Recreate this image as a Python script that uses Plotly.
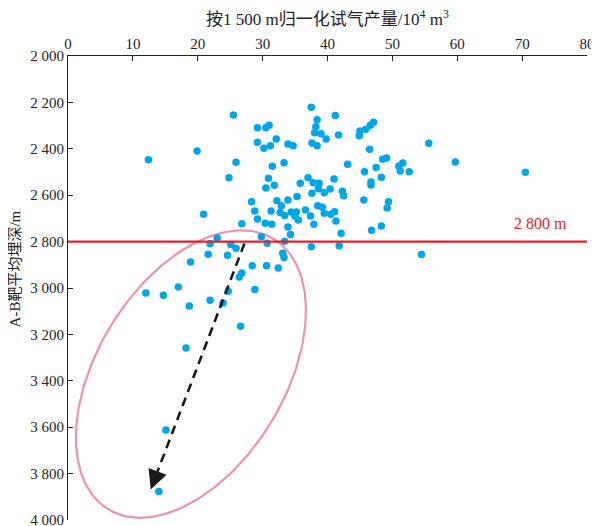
import numpy as np
import plotly.graph_objects as go

# Normalized test gas production (10^4 m^3) and A-B target average burial depth (m)
gas = [37.5, 25.5, 41.2, 38.4, 38.2, 29.2, 30.5, 31.0, 38.0, 39.0,
       41.7, 45.0, 44.9, 45.9, 46.6, 47.1, 32.1, 39.8, 29.2, 31.2,
       30.2, 33.9, 34.7, 37.6, 38.4, 19.9, 46.5, 48.5, 49.1, 25.9,
       33.3, 31.5, 43.1, 51.0, 51.2, 47.5, 45.7, 24.8, 30.9, 37.0,
       37.8, 38.7, 41.0, 48.3, 35.8, 31.8, 30.5, 38.6, 46.7, 46.7,
       40.4, 39.5, 37.6, 42.3, 42.5, 35.3, 33.9, 32.2, 28.3, 45.6,
       49.4, 32.9, 38.5, 39.2, 49.2, 28.8, 31.3, 32.7, 33.4, 34.4,
       35.2, 35.0, 35.5, 36.6, 37.4, 39.5, 40.5, 41.1, 41.3, 29.2,
       30.4, 31.4, 26.8, 20.9, 37.9, 33.9, 34.3, 42.1, 46.8, 48.3,
       23.0, 21.9, 29.8, 30.7, 33.4, 25.1, 25.9, 37.5, 41.8, 55.6,
       59.7, 51.6, 52.6, 70.5, 33.1, 33.3, 21.6, 24.6, 18.9, 28.4,
       30.6, 32.4, 26.8, 26.4, 17.0, 12.0, 14.7, 28.8, 24.7, 21.9,
       23.9, 18.7, 26.6, 18.2, 54.5, 15.1, 14.0, 12.4]
depth = [2221, 2254, 2256, 2275, 2305, 2309, 2309, 2299, 2331, 2335,
         2341, 2323, 2344, 2316, 2299, 2286, 2358, 2358, 2372, 2387,
         2398, 2379, 2387, 2375, 2387, 2409, 2402, 2445, 2440, 2458,
         2460, 2475, 2467, 2474, 2496, 2481, 2499, 2525, 2527, 2525,
         2546, 2549, 2530, 2523, 2549, 2557, 2569, 2572, 2543, 2556,
         2573, 2589, 2592, 2583, 2602, 2606, 2621, 2624, 2628, 2621,
         2628, 2645, 2645, 2652, 2655, 2668, 2668, 2675, 2687, 2672,
         2672, 2691, 2707, 2664, 2690, 2678, 2682, 2671, 2711, 2703,
         2721, 2725, 2723, 2682, 2725, 2737, 2769, 2764, 2751, 2733,
         2784, 2809, 2779, 2807, 2799, 2813, 2829, 2822, 2818, 2376,
         2457, 2461, 2499, 2501, 2850, 2868, 2855, 2859, 2888, 2904,
         2904, 2914, 2935, 2953, 2996, 3022, 3031, 3006, 3014, 3053,
         3065, 3078, 3165, 3259, 2856, 3612, 3877, 2447]

x_ticks = [0, 10, 20, 30, 40, 50, 60, 70, 80]
y_ticks = [2000, 2200, 2400, 2600, 2800, 3000, 3200, 3400, 3600, 3800, 4000]
y_ticklabels = ["2 000", "2 200", "2 400", "2 600", "2 800", "3 000",
                "3 200", "3 400", "3 600", "3 800", "4 000"]
threshold_depth = 2800
threshold_label = "2 800 m"
x_title = "按1 500 m归一化试气产量/10<sup>4</sup> m<sup>3</sup>"
y_title = "A-B靶平均埋深/m"

# decoration geometry (data units)
arrow_start = (27.2, 2808)
arrow_end = (12.75, 3868)
ellipse_center = (18.95, 3371)

W, H = 599, 526
# page body adds an 8px offset, margins compensate for it
ML, MR, MT, MB = 60, 20, 48, 14
px_per_x = (W - ML - MR) / 80.0
px_per_m = (H - MT - MB) / 2000.0

FONT = "Liberation Serif, Noto Sans CJK SC, serif"

fig = go.Figure()

# ellipse (rotated, defined in screen proportions)
a_px, b_px, theta = 158.5, 93.6, np.deg2rad(58.5)
t = np.linspace(0, 2 * np.pi, 241)
ex_px = a_px * np.cos(t) * np.cos(theta) - b_px * np.sin(t) * np.sin(theta)
ey_px = a_px * np.cos(t) * np.sin(theta) + b_px * np.sin(t) * np.cos(theta)
fig.add_trace(go.Scatter(
    x=ellipse_center[0] + ex_px / px_per_x,
    y=ellipse_center[1] - ey_px / px_per_m,
    mode="lines", line=dict(color="#e993b3", width=2.2),
    hoverinfo="skip", showlegend=False))

# data points
fig.add_trace(go.Scatter(
    x=gas, y=depth, mode="markers",
    marker=dict(size=7.5, color="#00a6e6", line=dict(width=0)),
    showlegend=False))

# dashed arrow shaft
dxp = (arrow_start[0] - arrow_end[0]) * px_per_x
dyp = -(arrow_start[1] - arrow_end[1]) * px_per_m
L = np.hypot(dxp, dyp)
ux, uy = dxp / L, dyp / L
head = 12
fig.add_trace(go.Scatter(
    x=[arrow_start[0], arrow_end[0] + ux * head / px_per_x],
    y=[arrow_start[1], arrow_end[1] - uy * head / px_per_m],
    mode="lines", line=dict(color="#1a1a1a", width=2.6, dash="9px,6px"),
    hoverinfo="skip", showlegend=False))
fig.add_annotation(
    x=arrow_end[0], y=arrow_end[1], xref="x", yref="y",
    ax=ux * 14, ay=-uy * 14, axref="pixel", ayref="pixel",
    showarrow=True, arrowhead=2, arrowsize=1.6, arrowwidth=2.4,
    arrowcolor="#1a1a1a", text="")

# threshold line
fig.add_shape(type="line", xref="x", yref="y", x0=0, x1=80,
              y0=threshold_depth, y1=threshold_depth,
              line=dict(color="#e8202a", width=2.2))
fig.add_annotation(x=72.8, y=threshold_depth, xref="x", yref="y",
                   text=threshold_label, showarrow=False, yshift=18,
                   font=dict(family=FONT, size=16, color="#e8202a"))

# axis titles as annotations (placed like the reference)
fig.add_annotation(x=0.5, y=1, xref="paper", yref="paper", yshift=38,
                   xanchor="center", yanchor="middle",
                   text=x_title, showarrow=False,
                   font=dict(family=FONT, size=17, color="#222"))
fig.add_annotation(x=0, y=0.54, xref="paper", yref="paper", xshift=-53,
                   xanchor="center", yanchor="middle",
                   text=y_title, showarrow=False, textangle=-90,
                   font=dict(family=FONT, size=15, color="#222"))

fig.update_layout(
    width=W, height=H,
    margin=dict(l=ML, r=MR, t=MT, b=MB),
    paper_bgcolor="white", plot_bgcolor="white",
    font=dict(family=FONT, size=14, color="#222"),
    xaxis=dict(
        side="top", range=[0, 80], tickvals=x_ticks, automargin=False,
        showline=True, linecolor="#222", linewidth=1.2,
        ticks="inside", ticklen=5, tickcolor="#222",
        showgrid=False, zeroline=False,
        tickfont=dict(family=FONT, size=15)),
    yaxis=dict(
        range=[4000, 2000], tickvals=y_ticks, ticktext=y_ticklabels,
        automargin=False,
        showline=True, linecolor="#222", linewidth=1.2,
        ticks="inside", ticklen=5, tickcolor="#222",
        showgrid=False, zeroline=False,
        tickfont=dict(family=FONT, size=15)),
)

fig.write_html("out.html")
